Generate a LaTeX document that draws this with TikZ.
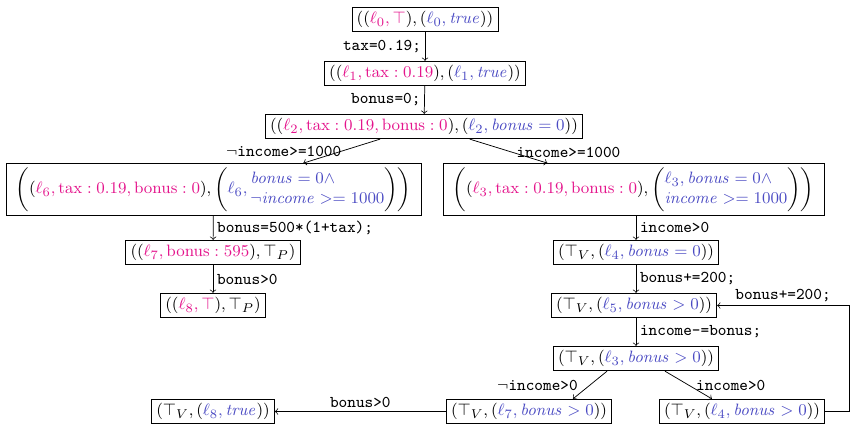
\documentclass[tikz,border=0pt]{standalone}
\usepackage{xcolor}
\definecolor{pk}{RGB}{228,20,140}
\definecolor{bl}{RGB}{75,75,195}
\newcommand{\pinkt}[1]{\textcolor{pk}{#1}}
\newcommand{\bluet}[1]{\textcolor{bl}{#1}}
\begin{document}
\begin{tikzpicture}[x=0.546pt,y=-0.546pt,
  st/.style={draw,inner sep=2.2pt,inner xsep=2.6pt,font=\fontsize{9.4}{11}\selectfont},
  big/.style={st,inner xsep=5.2pt},
  lab/.style={font=\small\ttfamily,inner sep=2pt},
  arr/.style={->}]
\useasboundingbox (0,0) rectangle (853,428);
\node[st] (n0) at (425,19.5) {$((\pinkt{\ell_0,\top}),(\bluet{\ell_0,\mathit{true}}))$};
\node[st] (n1) at (425,73.5) {$((\pinkt{\ell_1,\mathrm{tax}:0.19}),(\bluet{\ell_1,\mathit{true}}))$};
\node[st] (n2) at (424,126.5) {$((\pinkt{\ell_2,\mathrm{tax}:0.19,\mathrm{bonus}:0}),(\bluet{\ell_2,\mathit{bonus}=0}))$};
\node[big] (n6) at (213.5,189.5) {$\left((\pinkt{\ell_6,\mathrm{tax}:0.19,\mathrm{bonus}:0}),\left(\bluet{\ell_6,\begin{array}{@{}l@{}}\mathit{bonus}=0\wedge\\ \neg\mathit{income}>=1000\end{array}}\right)\right)$};
\node[big] (n3) at (633.5,189.5) {$\left((\pinkt{\ell_3,\mathrm{tax}:0.19,\mathrm{bonus}:0}),\left(\bluet{\begin{array}{@{}l@{}}\ell_3,\mathit{bonus}=0\wedge\\ \mathit{income}>=1000\end{array}}\right)\right)$};
\node[st] (n7) at (213,252.5) {$((\pinkt{\ell_7,\mathrm{bonus}:595}),\top_P)$};
\node[st] (n8) at (213,305.5) {$((\pinkt{\ell_8,\top}),\top_P)$};
\node[st] (n4) at (636,252.5) {$(\top_V,(\bluet{\ell_4,\mathit{bonus}=0}))$};
\node[st] (n5) at (634,305.5) {$(\top_V,(\bluet{\ell_5,\mathit{bonus}>0}))$};
\node[st] (n3b) at (636,358.5) {$(\top_V,(\bluet{\ell_3,\mathit{bonus}>0}))$};
\node[st] (n7b) at (529,411.5) {$(\top_V,(\bluet{\ell_7,\mathit{bonus}>0}))$};
\node[st] (n4b) at (742,411.5) {$(\top_V,(\bluet{\ell_4,\mathit{bonus}>0}))$};
\node[st] (n8b) at (213,411.5) {$(\top_V,(\bluet{\ell_8,\mathit{true}}))$};
\coordinate (c1) at (849,411.5);
\coordinate (c2) at (849,305.5);

\draw[arr] (n0) -- node[lab,left] {tax=0.19;} (n1);
\draw[arr] (n1) -- node[lab,left] {bonus=0;} (n2);
\draw[arr] ([xshift=-24pt]n2.south) -- node[lab,anchor=east,pos=0.5,xshift=2pt] {$\neg$income>=1000} ([xshift=49pt]n6.north);
\draw[arr] ([xshift=25pt]n2.south) -- node[lab,right,pos=0.55] {income>=1000} ([xshift=-47pt]n3.north);
\draw[arr] (n6) -- node[lab,right] {bonus=500*(1+tax);} (n7);
\draw[arr] (n7) -- node[lab,right] {bonus>0} (n8);
\draw[arr] (n3.south -| n4) -- node[lab,right] {income>0} (n4);
\draw[arr] (n4) -- node[lab,right] {bonus+=200;} (n4 |- n5.north);
\draw[arr] (n5.south -| n4) -- node[lab,right] {income-=bonus;} (n3b);
\draw[arr] ([xshift=-15.8pt]n3b.south) -- node[lab,anchor=east,pos=0.5,xshift=-4.5pt] {$\neg$income>0} ([xshift=24pt]n7b.north);
\draw[arr] ([xshift=15.8pt]n3b.south) -- node[lab,right,xshift=2pt] {income>0} ([xshift=-16.4pt]n4b.north);
\draw[arr] (n7b) -- node[lab,above] {bonus>0} (n8b);
\draw[arr] (n4b.east) -- (c1) -- (c2) -- node[lab,above] {bonus+=200;} (n5.east);
\end{tikzpicture}
\end{document}
